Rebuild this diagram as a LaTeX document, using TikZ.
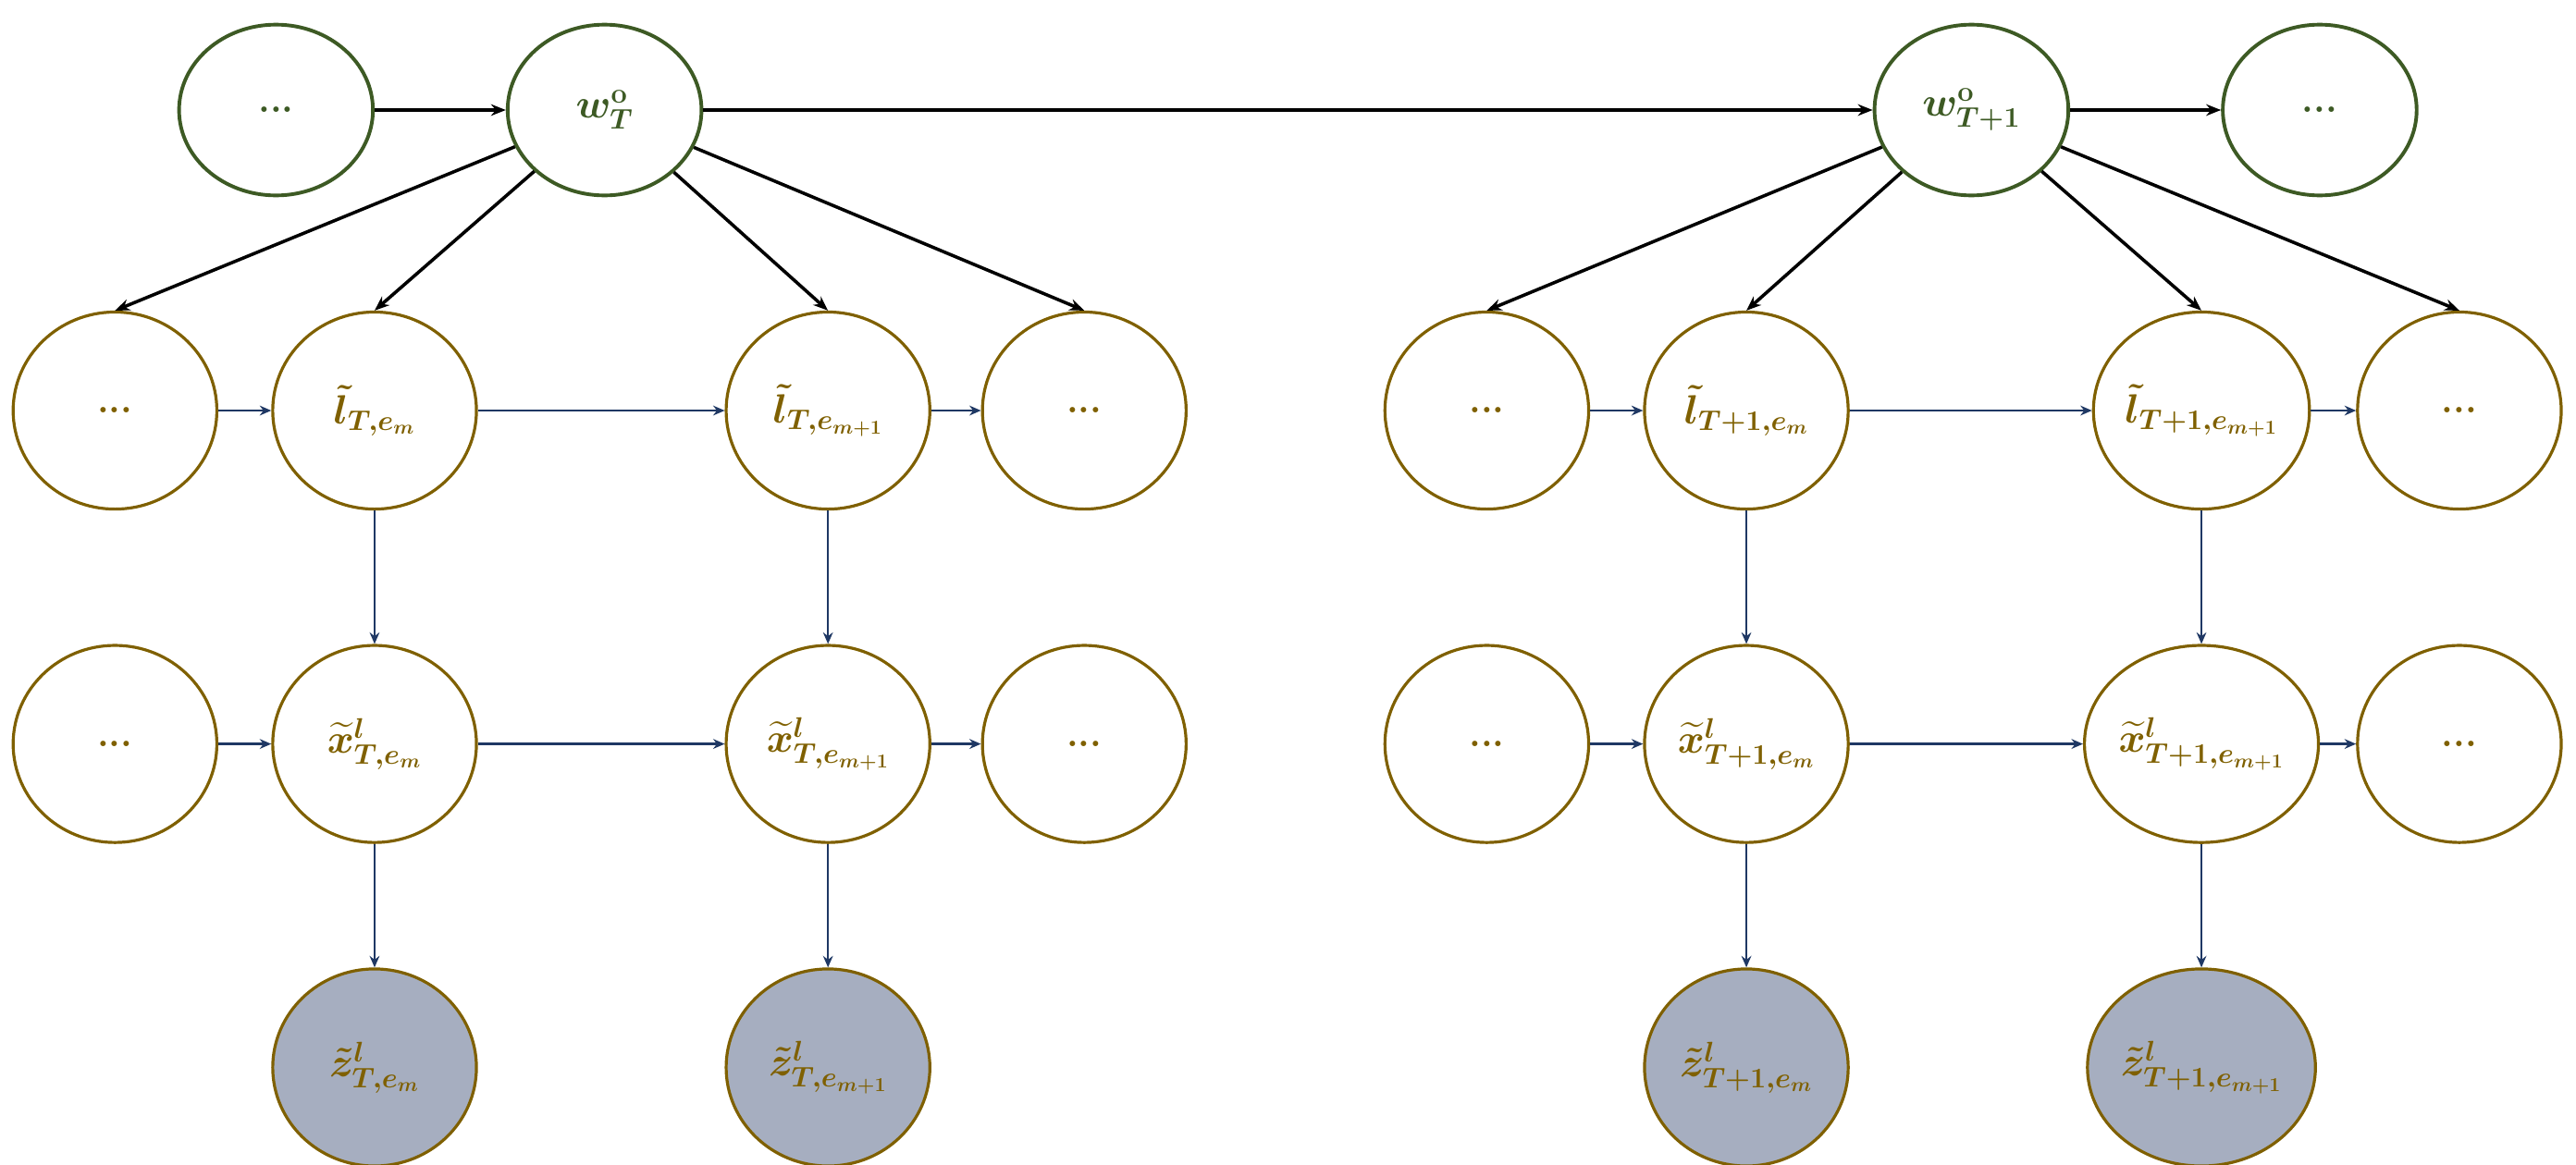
\documentclass[tikz,border=0pt]{standalone}
\usepackage{amsmath,bm}
\usetikzlibrary{arrows.meta,shapes.geometric}
\definecolor{gr}{HTML}{3D5A24}
\definecolor{br}{HTML}{7F6000}
\definecolor{nv}{HTML}{1F3864}
\definecolor{fl}{HTML}{A6AEC0}
\begin{document}
\begin{tikzpicture}[x=1pt,y=-1pt,
 top/.style={ellipse,draw=gr,line width=2.2pt,minimum width=118pt,minimum height=104pt,text=gr,font=\fontsize{23}{27}\selectfont\bfseries,inner sep=0pt},
 nd/.style={ellipse,draw=br,line width=1.8pt,minimum width=124pt,minimum height=120pt,text=br,font=\fontsize{23}{27}\selectfont\bfseries,inner sep=0pt},
 obs/.style={nd,fill=fl},
 ka/.style={-{Stealth[length=9pt,width=7pt]},line width=2pt,black},
 na/.style={-{Stealth[length=7pt,width=6pt]},line width=1.3pt,nv}]
\useasboundingbox (0,0) rectangle (1568,709);
\node[top] (t0) at (168,67) {...};
\node[top] (wT) at (368,67) {$\bm{w^{\mathbf{o}}_{T}}$};
\node[top] (wT1) at (1200,67) {$\bm{w^{\mathbf{o}}_{T+1}}$};
\node[top] (t3) at (1412,67) {...};
% row 2
\node[nd] (l1) at (70,250) {...};
\node[nd] (l2) at (228,250) {$\bm{\tilde{l}_{T,e_m}}$};
\node[nd] (l3) at (504,250) {$\bm{\tilde{l}_{T,e_{m+1}}}$};
\node[nd] (l4) at (660,250) {...};
\node[nd] (l5) at (905,250) {...};
\node[nd] (l6) at (1063,250) {$\bm{\tilde{l}_{T+1,e_m}}$};
\node[nd] (l7) at (1340,250) {$\bm{\tilde{l}_{T+1,e_{m+1}}}$};
\node[nd] (l8) at (1497,250) {...};
% row 3
\node[nd] (x1) at (70,453) {...};
\node[nd] (x2) at (228,453) {$\bm{\widetilde{x}^{l}_{T,e_m}}$};
\node[nd] (x3) at (504,453) {$\bm{\widetilde{x}^{l}_{T,e_{m+1}}}$};
\node[nd] (x4) at (660,453) {...};
\node[nd] (x5) at (905,453) {...};
\node[nd] (x6) at (1063,453) {$\bm{\widetilde{x}^{l}_{T+1,e_m}}$};
\node[nd] (x7) at (1340,453) {$\bm{\widetilde{x}^{l}_{T+1,e_{m+1}}}$};
\node[nd] (x8) at (1497,453) {...};
% row 4
\node[obs] (z2) at (228,650) {$\bm{\tilde{z}^{l}_{T,e_m}}$};
\node[obs] (z3) at (504,650) {$\bm{\tilde{z}^{l}_{T,e_{m+1}}}$};
\node[obs] (z6) at (1063,650) {$\bm{\tilde{z}^{l}_{T+1,e_m}}$};
\node[obs] (z7) at (1340,650) {$\bm{\tilde{z}^{l}_{T+1,e_{m+1}}}$};
% top arrows
\draw[ka] (t0) -- (wT);
\draw[ka] (wT) -- (wT1);
\draw[ka] (wT1) -- (t3);
\foreach \s/\a/\b/\c/\d in {wT/l1/l2/l3/l4, wT1/l5/l6/l7/l8}{
 \draw[ka] (\s) -- (\a.north);
 \draw[ka] (\s) -- (\b.north);
 \draw[ka] (\s) -- (\c.north);
 \draw[ka] (\s) -- (\d.north);}
% navy arrows
\foreach \r in {l,x}{
 \draw[na] (\r1) -- (\r2); \draw[na] (\r2) -- (\r3); \draw[na] (\r3) -- (\r4);
 \draw[na] (\r5) -- (\r6); \draw[na] (\r6) -- (\r7); \draw[na] (\r7) -- (\r8);}
\foreach \i in {2,3,6,7}{
 \draw[na] (l\i) -- (x\i); \draw[na] (x\i) -- (z\i);}
\end{tikzpicture}
\end{document}
